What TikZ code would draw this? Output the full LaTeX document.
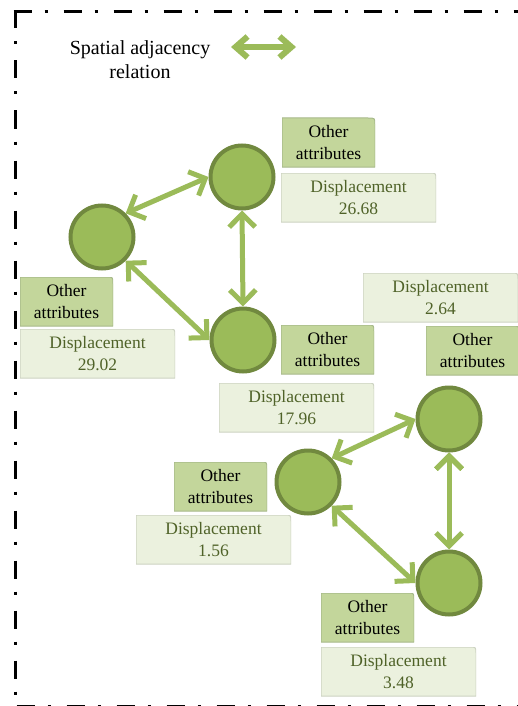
\documentclass[tikz,border=0pt]{standalone}
\usepackage{fontspec}
\setmainfont{Liberation Serif}
\usepackage{tikz}
\usetikzlibrary{arrows.meta, positioning}
\definecolor{circfill}{HTML}{9BBB59}
\definecolor{circline}{HTML}{71893F}
\definecolor{attrfill}{HTML}{C3D69B}
\definecolor{attrline}{HTML}{A7B98A}
\definecolor{dispfill}{HTML}{EBF1DE}
\definecolor{displine}{HTML}{CDD3C2}
\definecolor{disptext}{HTML}{4F6228}
\tikzset{
>={Straight Barb[length=13pt,width=26pt]}, % open arrow heads
cell/.style={circle, draw=circline, fill=circfill, line width=4pt, minimum size=63pt},
link/.style={<->, draw=circfill, line width=5pt},
keyarrow/.style={<->, >={Straight Barb[length=12pt,width=21pt]}, draw=circfill, line width=6pt},
tabbox/.style 2 args={anchor=north west, inner sep=0pt, outer sep=0pt, align=center,
  font=\rmfamily\fontsize{17.5}{21.5}\selectfont,
  path picture={\filldraw[fill=#1, draw=#2, line width=1pt]
    (path picture bounding box.south west) -- (path picture bounding box.north west)
    -- ([xshift=-7pt]path picture bounding box.north east)
    .. controls (path picture bounding box.north east) .. ([yshift=-7pt]path picture bounding box.north east)
    -- (path picture bounding box.south east) -- cycle;}},
attr/.style={tabbox={attrfill}{attrline}, minimum width=93pt, minimum height=49pt},
disp/.style={tabbox={dispfill}{displine}, minimum width=155pt, minimum height=49pt, text=disptext},
frame/.style={line width=3pt, dash pattern=on 18pt off 13pt on 3pt off 16pt},
}
\begin{document}
\begin{tikzpicture}[x=1pt, y=-1pt]
    \useasboundingbox (0,0) rectangle (518,706);
    % outer frame
    \draw[frame] (13.5,12) -- (540,12);
    \draw[frame] (15,10.5) -- (15,720);
    \draw[frame] (16.5,706.5) -- (540,706.5);
    % legend
    \node[font=\rmfamily\fontsize{20}{24}\selectfont, align=center] (key) at (140,60) {Spatial adjacency\\relation};
    \coordinate (kl) at (231,47);
    \coordinate (kr) at (296,47);
    \draw[keyarrow] (kl) -- (kr);
    % regions
    \node[cell] (n1) at (242,177) {};
    \node[cell] (n2) at (102,237) {};
    \node[cell] (n3) at (243,340) {};
    \node[cell] (n4) at (449,419) {};
    \node[cell] (n5) at (308,482) {};
    \node[cell] (n6) at (449,583) {};
    % attribute tables
    \node[attr] (a1) at (282,118) {Other\\attributes};
    \node[disp] (d1) at (281,173) {Displacement\\26.68};
    \node[attr] (a2) at (20,277) {Other\\attributes};
    \node[disp] (d2) at (20,329) {Displacement\\29.02};
    \node[attr] (a3) at (281,325) {Other\\attributes};
    \node[disp] (d3) at (219,383) {Displacement\\17.96};
    \node[disp] (d4) at (363,273) {Displacement\\2.64};
    \node[attr] (a4) at (426,326) {Other\\attributes};
    \node[attr] (a5) at (174,462) {Other\\attributes};
    \node[disp] (d5) at (136,515) {Displacement\\1.56};
    \node[attr] (a6) at (321,593) {Other\\attributes};
    \node[disp] (d6) at (321,647) {Displacement\\3.48};
    \draw[link]
    (n2.north east) edge (n1.west)
    (n2.south east) edge (n3.west)
    (n1.south) edge (n3.north)
    (n5.north east) edge (n4.west)
    (n5.south east) edge (n6.west)
    (n4.south) edge (n6.north)
    ;
\end{tikzpicture}
\end{document}
